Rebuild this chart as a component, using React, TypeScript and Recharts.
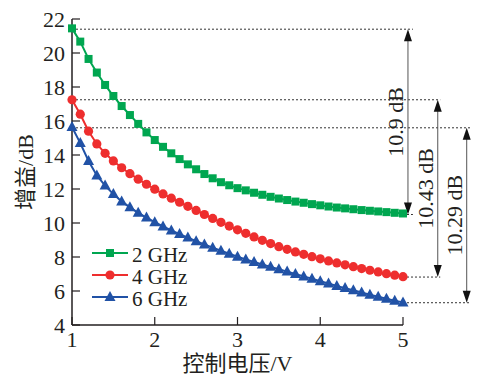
import { LineChart, Line, XAxis, YAxis, ReferenceLine, Legend } from "recharts";

const voltage = [
  1.0, 1.1, 1.2, 1.3, 1.4, 1.5, 1.6, 1.7, 1.8, 1.9, 2.0, 2.1, 2.2, 2.3, 2.4, 2.5, 2.6, 2.7, 2.8, 2.9, 3.0,
  3.1, 3.2, 3.3, 3.4, 3.5, 3.6, 3.7, 3.8, 3.9, 4.0, 4.1, 4.2, 4.3, 4.4, 4.5, 4.6, 4.7, 4.8, 4.9, 5.0,
];
const gain2GHz = [
  21.45, 20.67, 19.65, 18.85, 18.12, 17.47, 16.88, 16.35, 15.83, 15.33, 14.88, 14.48, 14.1, 13.76, 13.45,
  13.16, 12.88, 12.63, 12.4, 12.22, 12.05, 11.92, 11.78, 11.66, 11.54, 11.44, 11.35, 11.26, 11.19, 11.11,
  11.04, 10.97, 10.91, 10.86, 10.81, 10.76, 10.72, 10.68, 10.64, 10.6, 10.56,
];
const gain4GHz = [
  17.25, 16.4, 15.4, 14.65, 14.1, 13.65, 13.25, 12.9, 12.58, 12.28, 11.99, 11.71, 11.46, 11.22, 10.98,
  10.74, 10.5, 10.27, 10.04, 9.82, 9.6, 9.39, 9.18, 8.98, 8.79, 8.61, 8.45, 8.3, 8.16, 8.02, 7.89, 7.77,
  7.65, 7.54, 7.43, 7.32, 7.22, 7.12, 7.02, 6.93, 6.84,
];
const gain6GHz = [
  15.65, 14.7, 13.65, 12.8, 12.2, 11.7, 11.27, 10.92, 10.6, 10.32, 10.05, 9.8, 9.56, 9.35, 9.14, 8.93,
  8.74, 8.55, 8.37, 8.19, 8.02, 7.86, 7.71, 7.56, 7.42, 7.28, 7.14, 7.0, 6.86, 6.72, 6.58, 6.44, 6.3,
  6.17, 6.04, 5.91, 5.78, 5.66, 5.54, 5.43, 5.33,
];
const seriesNames = ["2 GHz", "4 GHz", "6 GHz"];
const xTicks = [1, 2, 3, 4, 5];
const yTicks = [4, 6, 8, 10, 12, 14, 16, 18, 20, 22];
// gain range annotations: top level, bottom level, label
const spanTop = [21.4, 17.25, 15.6];
const spanBottom = [10.5, 6.82, 5.31];
const spanLabels = ["10.9 dB", "10.43 dB", "10.29 dB"];

const data = voltage.map((v, i) => ({ v, g2: gain2GHz[i], g4: gain4GHz[i], g6: gain6GHz[i] }));

const GREEN = "#00a650";
const RED = "#ee2e2e";
const BLUE = "#2152a6";
const INK = "#231f20";
const FONT = "'Liberation Serif', 'Noto Sans CJK SC', serif";

// where the arrows and the dotted leaders sit, to the right of the plot
const arrowX = [5.06, 5.42, 5.77];
const leaderEnd = [5.12, 5.45, 5.82];

const Square = (p: any) => <rect key={p.index} x={p.cx - 4} y={p.cy - 4} width={8} height={8} fill={GREEN} />;
const Dot = (p: any) => <circle key={p.index} cx={p.cx} cy={p.cy} r={4.6} fill={RED} />;
const Tri = (p: any) => (
  <polygon
    key={p.index}
    points={`${p.cx},${p.cy - 6} ${p.cx - 5.5},${p.cy + 4} ${p.cx + 5.5},${p.cy + 4}`}
    fill={BLUE}
  />
);

const markers = [
  { color: GREEN, shape: (x: number, y: number) => <rect x={x - 4} y={y - 4} width={8} height={8} fill={GREEN} /> },
  { color: RED, shape: (x: number, y: number) => <circle cx={x} cy={y} r={4.6} fill={RED} /> },
  {
    color: BLUE,
    shape: (x: number, y: number) => (
      <polygon points={`${x},${y - 6} ${x - 5.5},${y + 4} ${x + 5.5},${y + 4}`} fill={BLUE} />
    ),
  },
];

function LegendBox() {
  return (
    <div style={{ fontFamily: FONT, fontSize: 21, color: INK }}>
      {seriesNames.map((name, i) => (
        <div key={name} style={{ display: "flex", alignItems: "center", height: 22 }}>
          <svg width={36} height={22}>
            <line x1={0} y1={11} x2={36} y2={11} stroke={markers[i].color} strokeWidth={2} />
            {markers[i].shape(18, 11)}
          </svg>
          <span style={{ marginLeft: 4, lineHeight: "20px", marginTop: 3 }}>{name}</span>
        </div>
      ))}
    </div>
  );
}

const makeArrow = (label: string) => (p: any) => {
  const { x1, y1, y2 } = p;
  const top = Math.min(y1, y2);
  const bot = Math.max(y1, y2);
  return (
    <g>
      <line x1={x1} y1={top + 10} x2={x1} y2={bot - 10} stroke="#555" strokeWidth={1} />
      <polygon points={`${x1},${top} ${x1 - 4},${top + 12} ${x1 + 4},${top + 12}`} fill="#111" />
      <polygon points={`${x1},${bot} ${x1 - 4},${bot - 12} ${x1 + 4},${bot - 12}`} fill="#111" />
      <text
        x={x1 - 4.5}
        y={(top + bot) / 2}
        transform={`rotate(-90 ${x1 - 4.5} ${(top + bot) / 2})`}
        textAnchor="middle"
        fontFamily={FONT}
        fontSize={22}
        fill={INK}
      >
        {label}
      </text>
    </g>
  );
};

export default function App() {
  const tick = { fill: INK, fontSize: 22, fontFamily: FONT };
  return (
    <div style={{ position: "absolute", left: 0, top: 0, background: "#fff" }}>
      <LineChart width={482} height={376} data={data} margin={{ top: 19, right: 79, bottom: 0, left: 0 }}>
        <XAxis
          dataKey="v"
          type="number"
          domain={[1, 5]}
          ticks={xTicks}
          height={51}
          axisLine={{ stroke: INK, strokeWidth: 1.5 }}
          tickLine={{ stroke: INK, strokeWidth: 1.2 }}
          tickSize={-8}
          tickMargin={14}
          tick={tick}
          label={{
            content: ({ viewBox }: any) => (
              <text
                x={viewBox.x + viewBox.width / 2}
                y={viewBox.y + 46}
                textAnchor="middle"
                fontFamily={FONT}
                fontSize={22}
                fill={INK}
              >
                控制电压/V
              </text>
            ),
          }}
        />
        <YAxis
          type="number"
          domain={[4, 22]}
          ticks={yTicks}
          width={72}
          axisLine={{ stroke: INK, strokeWidth: 1.5 }}
          tickLine={{ stroke: INK, strokeWidth: 1.2 }}
          tickSize={-8}
          tickMargin={15}
          tick={tick}
          label={{
            content: ({ viewBox }: any) => {
              const cx = 33;
              const cy = viewBox.y + viewBox.height / 2;
              return (
                <text
                  x={cx}
                  y={cy}
                  transform={`rotate(-90 ${cx} ${cy})`}
                  textAnchor="middle"
                  fontFamily={FONT}
                  fontSize={22}
                  fill={INK}
                >
                  增益/dB
                </text>
              );
            },
          }}
        />
        {spanTop.map((t, i) => (
          <ReferenceLine
            key={`top${i}`}
            segment={[{ x: 1, y: t }, { x: leaderEnd[i], y: t }]}
            stroke="#333"
            strokeWidth={1}
            strokeDasharray="2 2"
            ifOverflow="visible"
          />
        ))}
        {spanBottom.map((b, i) => (
          <ReferenceLine
            key={`bot${i}`}
            segment={[{ x: 5, y: b }, { x: leaderEnd[i], y: b }]}
            stroke="#333"
            strokeWidth={1}
            strokeDasharray="2 2"
            ifOverflow="visible"
          />
        ))}
        {spanLabels.map((lab, i) => (
          <ReferenceLine
            key={`arr${i}`}
            segment={[{ x: arrowX[i], y: spanTop[i] }, { x: arrowX[i], y: spanBottom[i] }]}
            ifOverflow="visible"
            shape={makeArrow(lab)}
          />
        ))}
        <Line dataKey="g2" name={seriesNames[0]} stroke={GREEN} strokeWidth={2} dot={Square} isAnimationActive={false} />
        <Line dataKey="g4" name={seriesNames[1]} stroke={RED} strokeWidth={2} dot={Dot} isAnimationActive={false} />
        <Line dataKey="g6" name={seriesNames[2]} stroke={BLUE} strokeWidth={2} dot={Tri} isAnimationActive={false} />
        <Legend
          layout="vertical"
          align="center"
          verticalAlign="middle"
          wrapperStyle={{ left: 92, top: 242, width: 130 }}
          content={() => <LegendBox />}
        />
      </LineChart>
    </div>
  );
}
